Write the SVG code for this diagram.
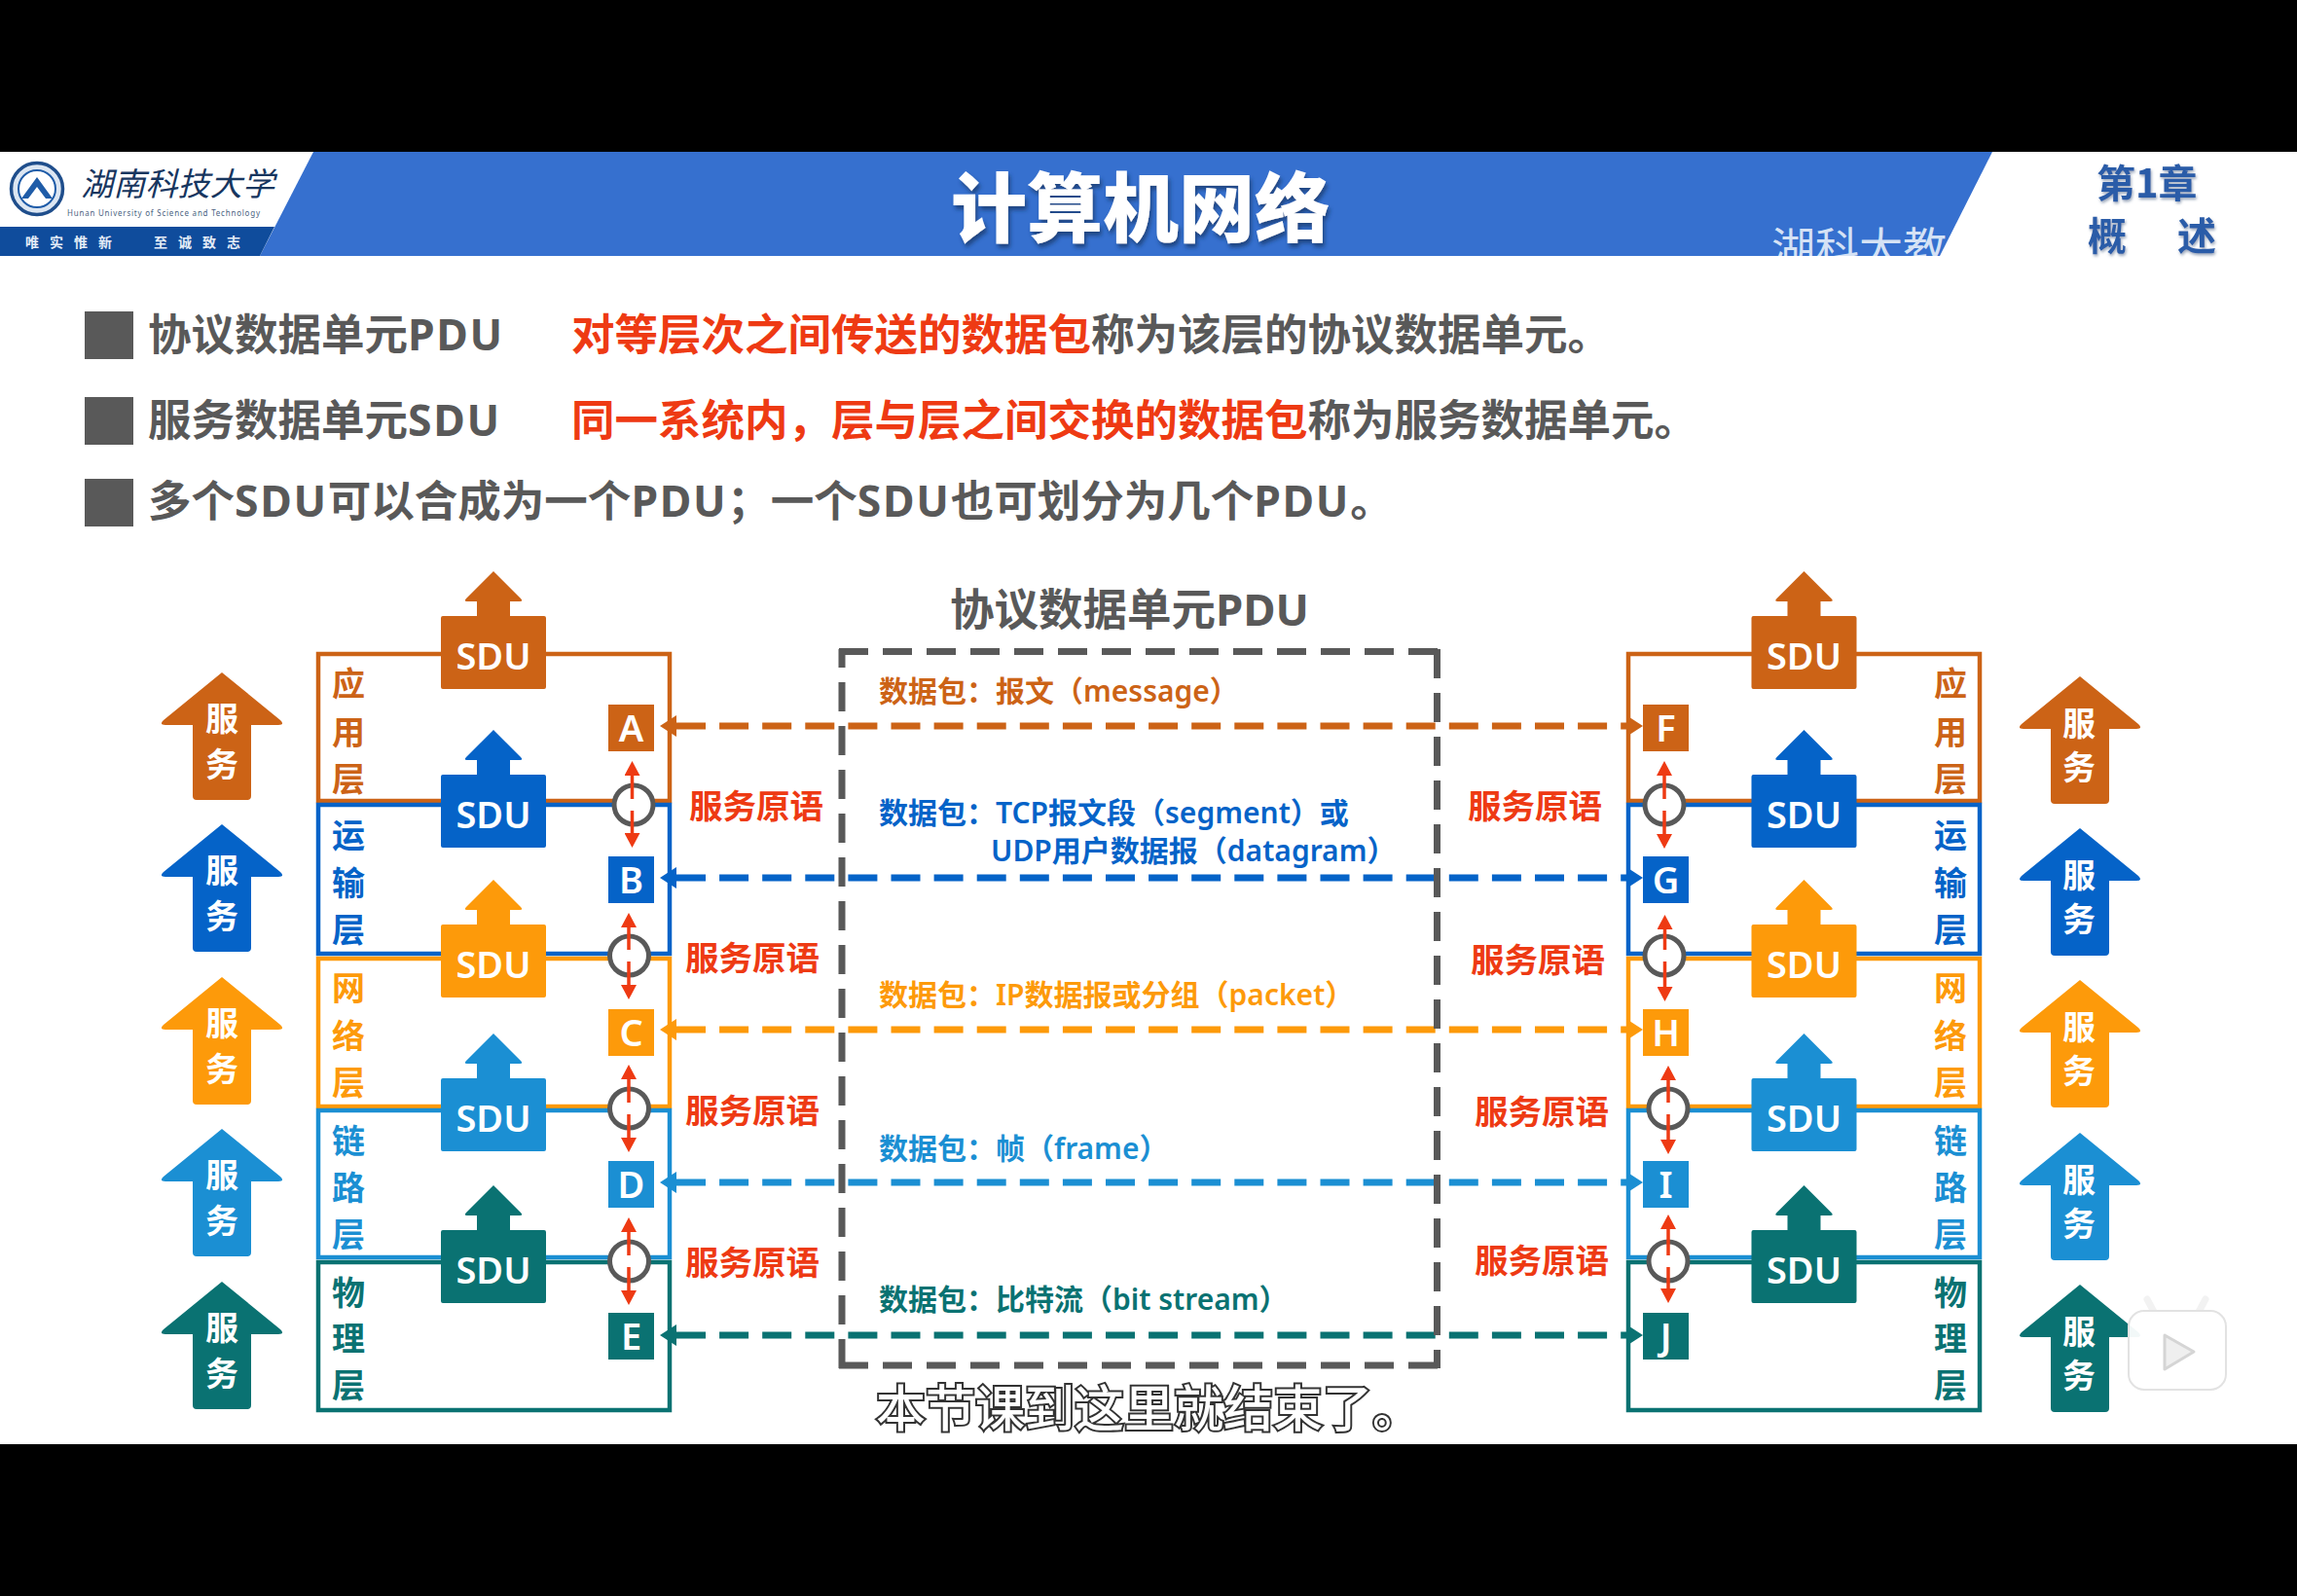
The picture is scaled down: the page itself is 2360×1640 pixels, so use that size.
<svg xmlns="http://www.w3.org/2000/svg" width="2360" height="1640" viewBox="0 0 2360 1640">
<style>
text{font-family:"Noto Sans","Noto Sans CJK SC",sans-serif;font-weight:700}
.cjk{font-family:"Noto Sans CJK SC",sans-serif}
.b{font-size:44.5px;fill:#595959}
.r{font-size:44.5px;fill:#EE3A13}
.w{letter-spacing:1.7px}
.dl{font-size:30px;font-weight:600}
.prim{font-size:34.5px;fill:#EE3A13;font-family:"Noto Sans CJK SC",sans-serif}
.lay{font-size:34px;text-anchor:middle;font-family:"Noto Sans CJK SC",sans-serif}
.svt{font-size:34px;fill:#fff;text-anchor:middle;font-family:"Noto Sans CJK SC",sans-serif}
.sdt{font-size:38px;fill:#fff;text-anchor:middle;font-weight:600}
.let{font-size:38px;fill:#fff;text-anchor:middle;font-weight:600}
.box{fill:none;stroke-width:4.5}
.app{fill:#CC6316}.tra{fill:#0563C8}.net{fill:#FD9A0A}.lnk{fill:#1B8FD3}.phy{fill:#0A7272}
.sapp{stroke:#CC6316}.stra{stroke:#0563C8}.snet{stroke:#FD9A0A}.slnk{stroke:#1B8FD3}.sphy{stroke:#0A7272}
.pk{fill:none;stroke-width:7;stroke-dasharray:30 14.1}
.pdu{fill:none;stroke:#595959;stroke-width:7;stroke-dasharray:30 15}
.ring{fill:#fff;stroke:#595959;stroke-width:5}
.rd{stroke:#EE3A13;stroke-width:3.5;fill:none}
</style>
<defs>
<path id="sdu" d="M0,-46 L28,-18 Q31,-15 27,-15 L17,-15 L17,0 L52,0 Q54,0 54,2 L54,73 Q54,75 52,75 L-52,75 Q-54,75 -54,73 L-54,2 Q-54,0 -52,0 L-17,0 L-17,-15 L-27,-15 Q-31,-15 -28,-18 Z"/>
<path id="svc" d="M0,0 L60,49 Q65,54 58,54 L30,54 L30,127 Q30,131 26,131 L-26,131 Q-30,131 -30,127 L-30,54 L-58,54 Q-65,54 -60,49 Z"/>
<marker id="ma" markerUnits="userSpaceOnUse" viewBox="0 0 17 22" refX="0" refY="11" markerWidth="17" markerHeight="22" orient="auto-start-reverse"><path class="app" d="M0,0 L17,11 L0,22 Z"/></marker>
<marker id="mt" markerUnits="userSpaceOnUse" viewBox="0 0 17 22" refX="0" refY="11" markerWidth="17" markerHeight="22" orient="auto-start-reverse"><path class="tra" d="M0,0 L17,11 L0,22 Z"/></marker>
<marker id="mn" markerUnits="userSpaceOnUse" viewBox="0 0 17 22" refX="0" refY="11" markerWidth="17" markerHeight="22" orient="auto-start-reverse"><path class="net" d="M0,0 L17,11 L0,22 Z"/></marker>
<marker id="ml" markerUnits="userSpaceOnUse" viewBox="0 0 17 22" refX="0" refY="11" markerWidth="17" markerHeight="22" orient="auto-start-reverse"><path class="lnk" d="M0,0 L17,11 L0,22 Z"/></marker>
<marker id="mp" markerUnits="userSpaceOnUse" viewBox="0 0 17 22" refX="0" refY="11" markerWidth="17" markerHeight="22" orient="auto-start-reverse"><path class="phy" d="M0,0 L17,11 L0,22 Z"/></marker>
<marker id="mr" markerUnits="userSpaceOnUse" viewBox="0 0 15 16" refX="0" refY="8" markerWidth="15" markerHeight="16" orient="auto-start-reverse"><path fill="#EE3A13" d="M0,0 L15,8 L0,16 Z"/></marker>
<clipPath id="barclip"><polygon points="325,156 2047,156 1993,263 267,263"/></clipPath>
<filter id="ts" x="-5%" y="-10%" width="110%" height="125%"><feDropShadow dx="2" dy="4" stdDeviation="2" flood-color="#1F3A6E" flood-opacity=".8"/></filter>
<filter id="wh" x="-10%" y="-10%" width="120%" height="125%"><feDropShadow dx="1" dy="2" stdDeviation="1.5" flood-color="#7F8FA8" flood-opacity=".8"/></filter>
</defs>

<rect width="2360" height="1640" fill="#000"/>
<rect y="156" width="2360" height="1328" fill="#fff"/>

<g id="header">
<polygon points="322,156 2047,156 1993,263 267,263" fill="#3670CF"/>
<polygon points="0,233 282,233 267,263 0,263" fill="#0F4C9C"/>
<circle cx="38" cy="194" r="26.5" fill="#DCE6F2" stroke="#1F4E8C" stroke-width="3.5"/>
<circle cx="38" cy="194" r="19" fill="#fff" stroke="#1F5CA8" stroke-width="2"/>
<path d="M22,204 L38,182 L54,204 L47,204 L38,192 L29,204 Z" fill="#1F5CA8"/>
<text x="83" y="201" font-size="33" fill="#17365F" font-style="italic" class="cjk" textLength="199" style="font-weight:400">湖南科技大学</text>
<text x="69" y="222" font-size="8" fill="#4A5F80" style="font-weight:400" textLength="198">Hunan University of Science and Technology</text>
<text x="26" y="254" font-size="14" fill="#E4ECF7" class="cjk" letter-spacing="11">唯实惟新</text>
<text x="158" y="254" font-size="14" fill="#E4ECF7" class="cjk" letter-spacing="11">至诚致志</text>
<text x="1172" y="243" font-size="78" fill="#fff" text-anchor="middle" class="cjk" filter="url(#ts)" style="font-weight:900">计算机网络</text>
<g clip-path="url(#barclip)"><text x="1820" y="272" font-size="45" fill="#D5E2F5" class="cjk" style="font-weight:400">湖科大教</text></g>
<text x="2154" y="203" font-size="40" fill="#2A5CA8" class="cjk" filter="url(#wh)">第1章</text>
<text x="2145 2190 2237" y="257" font-size="40" fill="#2A5CA8" class="cjk" filter="url(#wh)">概 述</text>
</g>

<g id="bullets">
<rect x="87" y="320" width="50" height="49" fill="#595959"/>
<text class="b" x="152" y="360">协议数据单元<tspan class="w">PDU</tspan></text>
<text x="587" y="360"><tspan class="r">对等层次之间传送的数据包</tspan><tspan class="b">称为该层的协议数据单元。</tspan></text>
<rect x="87" y="408" width="50" height="49" fill="#595959"/>
<text class="b" x="152" y="448">服务数据单元<tspan class="w">SDU</tspan></text>
<text x="587" y="448"><tspan class="r">同一系统内，层与层之间交换的数据包</tspan><tspan class="b">称为服务数据单元。</tspan></text>
<rect x="87" y="492" width="50" height="49" fill="#595959"/>
<text class="b" x="152" y="531">多个<tspan class="w">SDU</tspan>可以合成为一个<tspan class="w">PDU</tspan>；一个<tspan class="w">SDU</tspan>也可划分为几个<tspan class="w">PDU</tspan>。</text>
</g>

<g id="layer-left-app"><rect class="box sapp" x="327" y="672" width="361" height="151"/><text class="lay app" x="358 358 358" y="715 765 813">应用层</text></g>
<g id="layer-left-tra"><rect class="box stra" x="327" y="827" width="361" height="153"/><text class="lay tra" x="358 358 358" y="871 920 968">运输层</text></g>
<g id="layer-left-net"><rect class="box snet" x="327" y="985" width="361" height="152"/><text class="lay net" x="358 358 358" y="1028 1077 1125">网络层</text></g>
<g id="layer-left-lnk"><rect class="box slnk" x="327" y="1141" width="361" height="151"/><text class="lay lnk" x="358 358 358" y="1185 1233 1281">链路层</text></g>
<g id="layer-left-phy"><rect class="box sphy" x="327" y="1297" width="361" height="152"/><text class="lay phy" x="358 358 358" y="1341 1388 1436">物理层</text></g>
<g id="layer-right-app"><rect class="box sapp" x="1673" y="672" width="361" height="151"/><text class="lay app" x="2004 2004 2004" y="715 765 813">应用层</text></g>
<g id="layer-right-tra"><rect class="box stra" x="1673" y="827" width="361" height="153"/><text class="lay tra" x="2004 2004 2004" y="871 920 968">运输层</text></g>
<g id="layer-right-net"><rect class="box snet" x="1673" y="985" width="361" height="152"/><text class="lay net" x="2004 2004 2004" y="1028 1077 1125">网络层</text></g>
<g id="layer-right-lnk"><rect class="box slnk" x="1673" y="1141" width="361" height="151"/><text class="lay lnk" x="2004 2004 2004" y="1185 1233 1281">链路层</text></g>
<g id="layer-right-phy"><rect class="box sphy" x="1673" y="1297" width="361" height="152"/><text class="lay phy" x="2004 2004 2004" y="1341 1388 1436">物理层</text></g>

<g id="pdu-title"><text x="976" y="643" font-size="45.5" fill="#595959">协议数据单元PDU</text></g>

<g id="connectors">
<line class="pk sapp" x1="695" y1="746" x2="1671" y2="746" marker-start="url(#ma)" marker-end="url(#ma)"/>
<line class="pk stra" x1="695" y1="902" x2="1671" y2="902" marker-start="url(#mt)" marker-end="url(#mt)"/>
<line class="pk snet" x1="695" y1="1058" x2="1671" y2="1058" marker-start="url(#mn)" marker-end="url(#mn)"/>
<line class="pk slnk" x1="695" y1="1215" x2="1671" y2="1215" marker-start="url(#ml)" marker-end="url(#ml)"/>
<line class="pk sphy" x1="695" y1="1372" x2="1671" y2="1372" marker-start="url(#mp)" marker-end="url(#mp)"/>
</g>

<g id="pdu-frame">
<line class="pdu" x1="862" y1="669.5" x2="1480" y2="669.5"/>
<line class="pdu" x1="862" y1="1403" x2="1480" y2="1403"/>
<line class="pdu" x1="865" y1="667" x2="865" y2="1406" stroke-dashoffset="11"/>
<line class="pdu" x1="1476.5" y1="667" x2="1476.5" y2="1406"/>
</g>

<g id="packet-labels">
<text class="dl app" x="903" y="721">数据包：报文（message）</text>
<text class="dl tra" x="903" y="846">数据包：TCP报文段（segment）或</text>
<text class="dl tra" x="1018" y="885">UDP用户数据报（datagram）</text>
<text class="dl net" x="903" y="1033">数据包：IP数据报或分组（packet）</text>
<text class="dl lnk" x="903" y="1191">数据包：帧（frame）</text>
<text class="dl phy" x="903" y="1346">数据包：比特流（bit stream）</text>
</g>

<g id="sdu-left-app"><use href="#sdu" class="app" x="507" y="633"/><text class="sdt" x="507" y="688">SDU</text></g>
<g id="sdu-left-tra"><use href="#sdu" class="tra" x="507" y="796"/><text class="sdt" x="507" y="851">SDU</text></g>
<g id="sdu-left-net"><use href="#sdu" class="net" x="507" y="950"/><text class="sdt" x="507" y="1005">SDU</text></g>
<g id="sdu-left-lnk"><use href="#sdu" class="lnk" x="507" y="1108"/><text class="sdt" x="507" y="1163">SDU</text></g>
<g id="sdu-left-phy"><use href="#sdu" class="phy" x="507" y="1264"/><text class="sdt" x="507" y="1319">SDU</text></g>
<g id="sdu-right-app"><use href="#sdu" class="app" x="1853.5" y="633"/><text class="sdt" x="1853.5" y="688">SDU</text></g>
<g id="sdu-right-tra"><use href="#sdu" class="tra" x="1853.5" y="796"/><text class="sdt" x="1853.5" y="851">SDU</text></g>
<g id="sdu-right-net"><use href="#sdu" class="net" x="1853.5" y="950"/><text class="sdt" x="1853.5" y="1005">SDU</text></g>
<g id="sdu-right-lnk"><use href="#sdu" class="lnk" x="1853.5" y="1108"/><text class="sdt" x="1853.5" y="1163">SDU</text></g>
<g id="sdu-right-phy"><use href="#sdu" class="phy" x="1853.5" y="1264"/><text class="sdt" x="1853.5" y="1319">SDU</text></g>

<g id="svc-left-app"><use href="#svc" class="app" x="228" y="691"/><text class="svt" x="228 228" y="751 798">服务</text></g>
<g id="svc-left-tra"><use href="#svc" class="tra" x="228" y="847"/><text class="svt" x="228 228" y="907 954">服务</text></g>
<g id="svc-left-net"><use href="#svc" class="net" x="228" y="1004"/><text class="svt" x="228 228" y="1064 1111">服务</text></g>
<g id="svc-left-lnk"><use href="#svc" class="lnk" x="228" y="1160"/><text class="svt" x="228 228" y="1220 1267">服务</text></g>
<g id="svc-left-phy"><use href="#svc" class="phy" x="228" y="1317"/><text class="svt" x="228 228" y="1377 1424">服务</text></g>
<g id="svc-right-app"><use href="#svc" class="app" x="2137" y="695"/><text class="svt" x="2136 2136" y="756 801">服务</text></g>
<g id="svc-right-tra"><use href="#svc" class="tra" x="2137" y="851"/><text class="svt" x="2136 2136" y="912 957">服务</text></g>
<g id="svc-right-net"><use href="#svc" class="net" x="2137" y="1007"/><text class="svt" x="2136 2136" y="1068 1113">服务</text></g>
<g id="svc-right-lnk"><use href="#svc" class="lnk" x="2137" y="1164"/><text class="svt" x="2136 2136" y="1225 1270">服务</text></g>
<g id="svc-right-phy"><use href="#svc" class="phy" x="2137" y="1320"/><text class="svt" x="2136 2136" y="1381 1426">服务</text></g>

<g id="node-A"><rect class="app" x="625" y="724" width="47" height="48"/><text class="let" x="648.5" y="762">A</text></g>
<g id="node-B"><rect class="tra" x="625" y="880" width="47" height="48"/><text class="let" x="648.5" y="918">B</text></g>
<g id="node-C"><rect class="net" x="625" y="1037" width="47" height="48"/><text class="let" x="648.5" y="1075">C</text></g>
<g id="node-D"><rect class="lnk" x="625" y="1193" width="47" height="48"/><text class="let" x="648.5" y="1231">D</text></g>
<g id="node-E"><rect class="phy" x="625" y="1349" width="47" height="48"/><text class="let" x="648.5" y="1387">E</text></g>
<g id="node-F"><rect class="app" x="1688" y="724" width="47" height="48"/><text class="let" x="1711.5" y="762">F</text></g>
<g id="node-G"><rect class="tra" x="1688" y="880" width="47" height="48"/><text class="let" x="1711.5" y="918">G</text></g>
<g id="node-H"><rect class="net" x="1688" y="1037" width="47" height="48"/><text class="let" x="1711.5" y="1075">H</text></g>
<g id="node-I"><rect class="lnk" x="1688" y="1193" width="47" height="48"/><text class="let" x="1711.5" y="1231">I</text></g>
<g id="node-J"><rect class="phy" x="1688" y="1349" width="47" height="48"/><text class="let" x="1711.5" y="1387">J</text></g>

<g id="sap-rings">
<circle class="ring" cx="651" cy="827" r="20"/><circle class="ring" cx="646.5" cy="982" r="20"/><circle class="ring" cx="646.5" cy="1139" r="20"/><circle class="ring" cx="646.5" cy="1296" r="20"/>
<circle class="ring" cx="1710" cy="827" r="20"/><circle class="ring" cx="1710" cy="982" r="20"/><circle class="ring" cx="1714" cy="1139" r="20"/><circle class="ring" cx="1714" cy="1296" r="20"/>
</g>
<g id="primitive-arrows">
<line class="rd" x1="649.5" y1="797" x2="649.5" y2="821" marker-start="url(#mr)"/><line class="rd" x1="649.5" y1="833" x2="649.5" y2="856" marker-end="url(#mr)"/>
<line class="rd" x1="646" y1="953" x2="646" y2="976" marker-start="url(#mr)"/><line class="rd" x1="646" y1="988" x2="646" y2="1012" marker-end="url(#mr)"/>
<line class="rd" x1="646" y1="1109" x2="646" y2="1133" marker-start="url(#mr)"/><line class="rd" x1="646" y1="1145" x2="646" y2="1169" marker-end="url(#mr)"/>
<line class="rd" x1="646" y1="1266" x2="646" y2="1290" marker-start="url(#mr)"/><line class="rd" x1="646" y1="1302" x2="646" y2="1326" marker-end="url(#mr)"/>
<line class="rd" x1="1710" y1="797" x2="1710" y2="821" marker-start="url(#mr)"/><line class="rd" x1="1710" y1="833" x2="1710" y2="857" marker-end="url(#mr)"/>
<line class="rd" x1="1710.5" y1="955" x2="1710.5" y2="976" marker-start="url(#mr)"/><line class="rd" x1="1710.5" y1="988" x2="1710.5" y2="1014" marker-end="url(#mr)"/>
<line class="rd" x1="1714" y1="1110" x2="1714" y2="1133" marker-start="url(#mr)"/><line class="rd" x1="1714" y1="1145" x2="1714" y2="1171" marker-end="url(#mr)"/>
<line class="rd" x1="1714" y1="1263" x2="1714" y2="1290" marker-start="url(#mr)"/><line class="rd" x1="1714" y1="1302" x2="1714" y2="1324" marker-end="url(#mr)"/>
</g>
<g id="primitive-labels">
<text class="prim" x="708" y="841">服务原语</text>
<text class="prim" x="704" y="997">服务原语</text>
<text class="prim" x="704" y="1154">服务原语</text>
<text class="prim" x="704" y="1310">服务原语</text>
<text class="prim" x="1508" y="841">服务原语</text>
<text class="prim" x="1511" y="999">服务原语</text>
<text class="prim" x="1515" y="1155">服务原语</text>
<text class="prim" x="1515" y="1308">服务原语</text>
</g>

<g id="subtitle"><text x="900" y="1466" font-size="51" fill="#fff" stroke="#333" stroke-width="4" paint-order="stroke" class="cjk" style="font-weight:500">本节课到这里就结束了。</text></g>

<g id="player-badge">
<path d="M2214,1350 L2206,1335 M2258,1350 L2266,1335" stroke="#F2F2F2" stroke-width="7" stroke-linecap="round" fill="none"/>
<rect x="2187" y="1347" width="100" height="81" rx="16" fill="#fff" fill-opacity=".95" stroke="#E2E2E2" stroke-width="2"/>
<path d="M2224,1372 L2254,1389 L2224,1407 Z" fill="#EFEFEF" stroke="#D5D5D5" stroke-width="3" stroke-linejoin="round"/>
</g>
</svg>
